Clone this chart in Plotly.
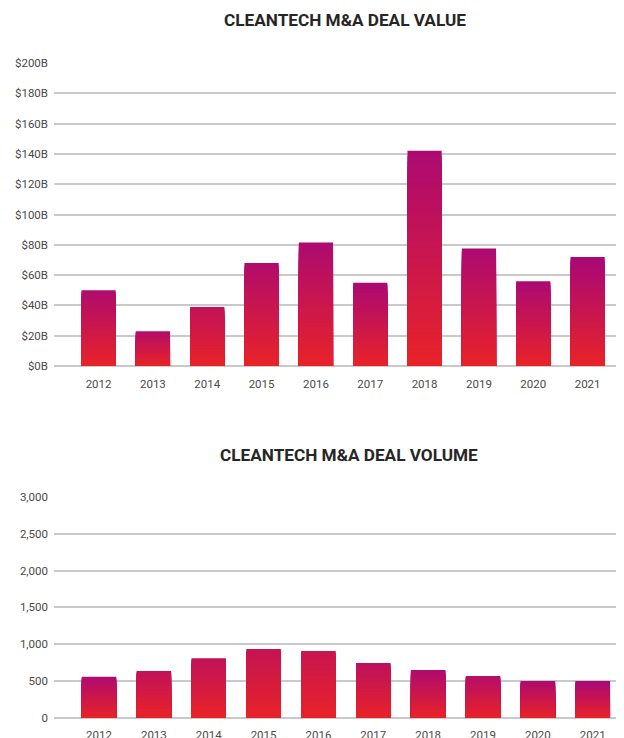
import plotly.graph_objects as go

# ---- data ----
years = ["2012", "2013", "2014", "2015", "2016", "2017", "2018", "2019", "2020", "2021"]
deal_value_bn = [50, 23, 39, 68, 81.5, 55, 142, 77.5, 56, 72]
deal_volume = [555, 635, 808, 935, 908, 745, 650, 568, 500, 500]

value_ticks = [0, 20, 40, 60, 80, 100, 120, 140, 160, 180, 200]
volume_ticks = [0, 500, 1000, 1500, 2000, 2500, 3000]

title_value = "CLEANTECH M&A DEAL VALUE"
title_volume = "CLEANTECH M&A DEAL VOLUME"

# ---- style ----
# The page body has an 8px default margin, so the figure is sized to fit the
# 624x738 window and reference pixel positions are shifted by that offset.
OFF = 8
W, H = 624 - OFF, 738 - OFF
RED = (232, 35, 40)
MAG = (168, 8, 120)
top_mix_value = [0.88, 0.82, 0.62, 0.85, 0.92, 0.95, 0.93, 0.93, 0.95, 1.0]
top_mix_volume = [0.90, 0.62, 0.62, 0.55, 0.5, 0.68, 0.90, 0.80, 0.90, 1.0]
N = 40
GRID = "#c9c9c9"
TICKFONT = dict(family="Roboto, Arial, sans-serif", size=11.5, color="#4a4a4a")
TITLEFONT = dict(family="Roboto, Arial, sans-serif", size=17.2, color="#262626")


def mix(t):
    r = round(RED[0] + (MAG[0] - RED[0]) * t)
    g = round(RED[1] + (MAG[1] - RED[1]) * t)
    b = round(RED[2] + (MAG[2] - RED[2]) * t)
    return f"rgb({r},{g},{b})"


def py(ref_y):
    return (H - (ref_y - OFF)) / H


def pxx(ref_x):
    return (ref_x - OFF) / W


fig = go.Figure()


def add_gradient_bars(values, mixes, xa, ya):
    # overlaid bars: tallest first (top colour), progressively shorter ones over it
    for k in range(N):
        frac = (N - k) / N
        t_pos = (N - k - 0.5) / N
        fig.add_trace(go.Bar(
            x=years,
            y=[v * frac for v in values],
            marker=dict(color=[mix(t_pos * m) for m in mixes], line=dict(width=0)),
            width=0.63,
            xaxis=xa, yaxis=ya,
            showlegend=False,
            hoverinfo="skip",
        ))


add_gradient_bars(deal_value_bn, top_mix_value, "x", "y")
add_gradient_bars(deal_volume, top_mix_volume, "x2", "y2")

xdom = [pxx(54), 1.0]

fig.update_layout(
    width=W, height=H,
    margin=dict(l=0, r=0, t=0, b=0),
    paper_bgcolor="white", plot_bgcolor="white",
    barmode="overlay",
    xaxis=dict(domain=xdom, anchor="y", type="category", range=[-0.82, 9.67],
               showgrid=False, showline=False, ticks="", tickfont=TICKFONT,
               ticklabelstandoff=9, automargin=False, fixedrange=True),
    yaxis=dict(domain=[py(366), py(63)], anchor="x",
               range=[0, 200], tickvals=value_ticks,
               ticktext=[f"${v}B" for v in value_ticks],
               showgrid=True, gridcolor=GRID, gridwidth=1.5,
               zeroline=True, zerolinecolor=GRID, zerolinewidth=1.5,
               showline=False, ticks="", tickfont=TICKFONT,
               ticklabelstandoff=5, automargin=False),
    xaxis2=dict(domain=xdom, anchor="y2", type="category", range=[-0.82, 9.57],
                showgrid=False, showline=False, ticks="", tickfont=TICKFONT,
                ticklabelstandoff=9, automargin=False),
    yaxis2=dict(domain=[py(717.7), py(497)], anchor="x2",
                range=[0, 3000], tickvals=volume_ticks,
                ticktext=[f"{v:,}" for v in volume_ticks],
                showgrid=True, gridcolor=GRID, gridwidth=1.5,
                zeroline=True, zerolinecolor=GRID, zerolinewidth=1.5,
                showline=False, ticks="", tickfont=TICKFONT,
                ticklabelstandoff=5, automargin=False),
    annotations=[
        dict(text=f"<b>{title_value}</b>", x=pxx(345), y=py(20),
             xref="paper", yref="paper", xanchor="center", yanchor="middle",
             showarrow=False, font=TITLEFONT),
        dict(text=f"<b>{title_volume}</b>", x=pxx(349), y=py(455),
             xref="paper", yref="paper", xanchor="center", yanchor="middle",
             showarrow=False, font=TITLEFONT),
    ],
)

fig.write_html("out.html")
